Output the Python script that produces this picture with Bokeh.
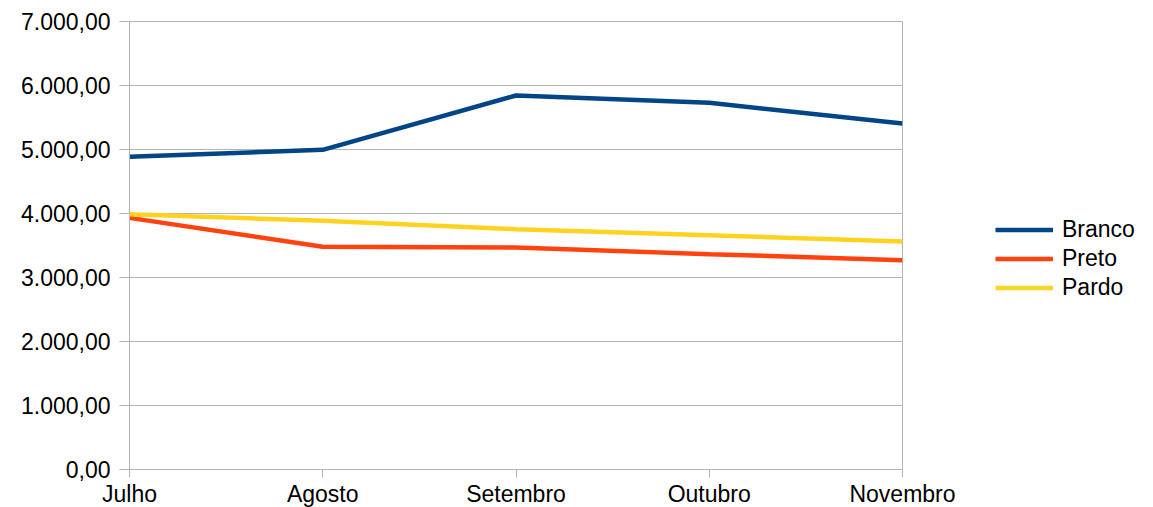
from bokeh.plotting import figure
from bokeh.models import Range1d, FixedTicker, Legend, LegendItem, ColumnDataSource
from bokeh.embed import file_html
from bokeh.resources import INLINE

months = ["Julho", "Agosto", "Setembro", "Outubro", "Novembro"]
branco = [4885, 4995, 5844, 5729, 5406]
preto = [3932, 3479, 3469, 3365, 3271]
pardo = [3990, 3885, 3755, 3661, 3562]
y_ticks = [0, 1000, 2000, 3000, 4000, 5000, 6000, 7000]
y_tick_labels = ["0,00", "1.000,00", "2.000,00", "3.000,00", "4.000,00",
                 "5.000,00", "6.000,00", "7.000,00"]
series_names = ["Branco", "Preto", "Pardo"]
colors = ["#004586", "#ff420e", "#ffd320"]

x = list(range(len(months)))
FONT = "Liberation Sans"
GRAY = "#b3b3b3"
FS = "23px"

p = figure(frame_width=773, frame_height=448, output_backend="svg", toolbar_location=None,
           x_range=Range1d(0, len(months) - 1), y_range=Range1d(0, 7000),
           min_border_left=129, min_border_right=0, min_border_top=21,
           min_border_bottom=36)
p.background_fill_color = "white"
p.border_fill_color = "white"
p.outline_line_color = GRAY
p.outline_line_width = 1

renderers = []
for name, vals, c in zip(series_names, [branco, preto, pardo], colors):
    src = ColumnDataSource(dict(x=x, y=vals))
    r = p.line("x", "y", source=src, line_color=c, line_width=4.5)
    renderers.append((name, r))

p.xaxis.ticker = FixedTicker(ticks=x)
p.xaxis.major_label_overrides = {i: m for i, m in zip(x, months)}
p.yaxis.ticker = FixedTicker(ticks=y_ticks)
p.yaxis.major_label_overrides = {t: l for t, l in zip(y_ticks, y_tick_labels)}

for ax in (p.xaxis, p.yaxis):
    ax.axis_line_color = GRAY
    ax.major_tick_line_color = GRAY
    ax.minor_tick_line_color = None
    ax.major_tick_in = 0
    ax.major_label_text_font = FONT
    ax.major_label_text_font_size = FS
    ax.major_label_text_color = "#000000"
p.xaxis.major_tick_out = 8
p.xaxis.major_label_standoff = 3
p.yaxis.major_tick_out = 10
p.yaxis.major_label_standoff = 9

p.xgrid.grid_line_color = None
p.ygrid.grid_line_color = GRAY
p.ygrid.grid_line_width = 1

legend = Legend(items=[LegendItem(label=n, renderers=[r]) for n, r in renderers],
                location=(93, 167), orientation="vertical")
legend.border_line_color = None
legend.background_fill_alpha = 0
legend.padding = 0
legend.margin = 0
legend.spacing = 0
legend.glyph_width = 58
legend.glyph_height = 29
legend.label_height = 29
legend.label_standoff = 9
legend.label_text_font = FONT
legend.label_text_font_size = FS
legend.label_text_color = "#000000"
p.add_layout(legend, "right")

open("out.html", "w").write(file_html(p, INLINE))
